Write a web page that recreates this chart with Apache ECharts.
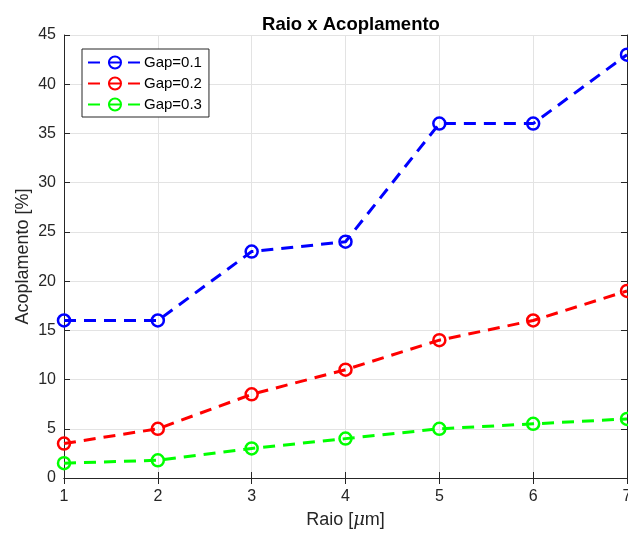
<!DOCTYPE html>
<html>
<head>
<meta charset="utf-8">
<script src="https://cdn.jsdelivr.net/npm/echarts@6/dist/echarts.min.js"></script>
<style>
  html, body { margin: 0; padding: 0; background: #fff; }
  #chart { width: 628px; height: 534px; }
</style>
</head>
<body>
<div id="chart"></div>
<script>
// Raio (µm) on the x axis
const raio = [1, 2, 3, 4, 5, 6, 7];
// Acoplamento (%) for each gap
const gap01 = [16, 16, 23, 24, 36, 36, 43];
const gap02 = [3.5, 5, 8.5, 11, 14, 16, 19];
const gap03 = [1.5, 1.8, 3, 4, 5, 5.5, 6];
const seriesNames = ['Gap=0.1', 'Gap=0.2', 'Gap=0.3'];
const seriesColors = ['#0000ff', '#ff0000', '#00ff00'];

const font = 'Liberation Sans, Arial, Helvetica, sans-serif';
const axisColor = '#262626';

function mkSeries(name, values, color) {
  return {
    name: name,
    type: 'line',
    data: raio.map((x, i) => [x, values[i]]),
    symbol: 'circle',
    symbolSize: 12,
    lineStyle: { color: color, width: 3, type: [12, 8] },
    itemStyle: { color: 'rgba(255,255,255,0)', borderColor: color, borderWidth: 2.5 },
    emphasis: { disabled: true },
    z: 3
  };
}

const chart = echarts.init(document.getElementById('chart'));
chart.setOption({
  animation: false,
  backgroundColor: '#fff',
  title: {
    text: 'Raio x Acoplamento',
    left: 346, textAlign: 'center', top: 10,
    textStyle: { fontFamily: font, fontSize: 18.5, fontWeight: 'bold', color: '#000' }
  },
  legend: {
    left: 82, top: 49,
    orient: 'vertical',
    backgroundColor: '#fff',
    borderColor: axisColor, borderWidth: 1, borderRadius: 0,
    padding: [6, 7, 5, 5],
    itemGap: 6,
    itemWidth: 54, itemHeight: 15,
    textStyle: { fontFamily: font, fontSize: 15, color: '#000', padding: [0, 0, 0, -3] },
    data: seriesNames
  },
  grid: { left: 64, right: 1, top: 35, bottom: 56, containLabel: false, outerBoundsMode: 'none' },
  xAxis: [{
    type: 'value', min: 1, max: 7, interval: 1,
    name: 'Raio [{i|μ}m]',
    nameLocation: 'middle', nameGap: 33, nameMoveOverlap: false,
    nameTextStyle: {
      fontFamily: font, fontSize: 18, color: axisColor,
      rich: { i: { fontFamily: 'DejaVu Serif, serif', fontStyle: 'italic', fontSize: 18, color: axisColor } }
    },
    axisLine: { show: true, onZero: false, lineStyle: { color: axisColor, width: 1 } },
    axisTick: { show: true, inside: true, length: 6, lineStyle: { color: axisColor } },
    axisLabel: { fontFamily: font, fontSize: 16, color: axisColor, margin: 11 },
    splitLine: { show: true, lineStyle: { color: '#e3e3e3', width: 1 } }
  }, {
    type: 'value', position: 'top', min: 1, max: 7, interval: 1,
    axisLine: { show: true, lineStyle: { color: axisColor, width: 1 } },
    axisTick: { show: true, inside: true, length: 6, lineStyle: { color: axisColor } },
    axisLabel: { show: false },
    splitLine: { show: false }
  }],
  yAxis: [{
    type: 'value', min: 0, max: 45, interval: 5,
    name: 'Acoplamento [%]',
    nameLocation: 'middle', nameGap: 32, nameMoveOverlap: false,
    nameTextStyle: { fontFamily: font, fontSize: 18, color: axisColor },
    axisLine: { show: true, onZero: false, lineStyle: { color: axisColor, width: 1 } },
    axisTick: { show: true, inside: true, length: 6, lineStyle: { color: axisColor } },
    axisLabel: { fontFamily: font, fontSize: 16, color: axisColor, margin: 8 },
    splitLine: { show: true, lineStyle: { color: '#e3e3e3', width: 1 } }
  }, {
    type: 'value', position: 'right', min: 0, max: 45, interval: 5,
    axisLine: { show: true, lineStyle: { color: axisColor, width: 1 } },
    axisTick: { show: true, inside: true, length: 6, lineStyle: { color: axisColor } },
    axisLabel: { show: false },
    splitLine: { show: false }
  }],
  series: [
    mkSeries(seriesNames[0], gap01, seriesColors[0]),
    mkSeries(seriesNames[1], gap02, seriesColors[1]),
    mkSeries(seriesNames[2], gap03, seriesColors[2])
  ]
});
</script>
</body>
</html>
